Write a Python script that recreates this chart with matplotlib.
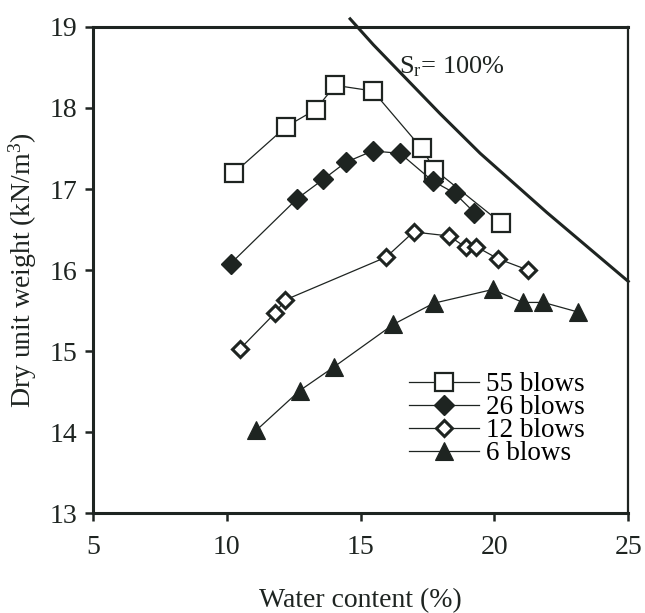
import numpy as np
import matplotlib
matplotlib.use('Agg')
import matplotlib.pyplot as plt

plt.rcParams['font.family'] = ['Liberation Serif', 'DejaVu Serif']
plt.rcParams['mathtext.fontset'] = 'custom'
plt.rcParams['mathtext.rm'] = 'Liberation Serif'
plt.rcParams['mathtext.it'] = 'Liberation Serif:italic'

INK = '#1e2421'

# Compaction curves: water content (%) vs dry unit weight (kN/m3)
w_55 = [10.28, 12.22, 13.32, 14.05, 15.46, 17.29, 17.76, 20.25]
g_55 = [17.20, 17.77, 17.98, 18.28, 18.21, 17.50, 17.24, 16.58]

w_26 = [10.15, 12.63, 13.61, 14.45, 15.45, 16.48, 17.69, 18.51, 19.25]
g_26 = [16.08, 16.88, 17.12, 17.33, 17.47, 17.44, 17.10, 16.95, 16.71]

w_12 = [10.48, 11.81, 12.18, 15.96, 16.98, 18.31, 18.93, 19.31, 20.13, 21.25]
g_12 = [15.02, 15.47, 15.63, 16.16, 16.47, 16.42, 16.28, 16.29, 16.14, 16.00]

w_6 = [11.10, 12.72, 13.99, 16.23, 17.73, 19.94, 21.06, 21.83, 23.14]
g_6 = [14.02, 14.51, 14.80, 15.33, 15.59, 15.76, 15.60, 15.60, 15.48]

# Full saturation (zero air voids) line
w_sat = [14.61, 15.48, 17.97, 19.47, 21.96, 25.0]
g_sat = [19.10, 18.78, 17.93, 17.44, 16.71, 15.86]

fig = plt.figure(figsize=(6.45, 6.13), dpi=100)
ax = fig.add_axes([0.144, 0.163, 0.830, 0.793])

ax.plot(w_55, g_55, '-', color=INK, lw=0.9, marker='s', ms=13,
        mfc='white', mec=INK, mew=1.6, label='55 blows')
ax.plot(w_26, g_26, '-', color=INK, lw=0.9, marker='D', ms=10,
        mfc=INK, mec=INK, mew=1.0, label='26 blows')
ax.plot(w_12, g_12, '-', color=INK, lw=0.9, marker='D', ms=8,
        mfc='white', mec=INK, mew=2.2, label='12 blows')
ax.plot(w_6, g_6, '-', color=INK, lw=0.9, marker='^', ms=13,
        mfc=INK, mec=INK, mew=0.8, label='6 blows')

ax.plot(w_sat, g_sat, '-', color=INK, lw=2.2, clip_on=False,
        solid_joinstyle='round')
ax.text(16.45, 18.43, r'S$_\mathregular{r}$= 100%', fontsize=19,
        color=INK, ha='left', va='baseline')

ax.set_xlim(5, 25)
ax.set_ylim(13, 19)
ax.set_xticks([5, 10, 15, 20, 25])
ax.set_yticks([13, 14, 15, 16, 17, 18, 19])

for side in ['left', 'bottom', 'top']:
    ax.spines[side].set_linewidth(2.2)
ax.spines['right'].set_linewidth(1.6)
for s in ax.spines.values():
    s.set_color(INK)

ax.tick_params(axis='both', direction='out', length=6, width=1.8,
               colors=INK, labelsize=20)
ax.tick_params(axis='x', pad=10)
ax.tick_params(axis='y', pad=5)

ax.set_xlabel('Water content (%)', fontsize=20, color=INK, labelpad=20)
ax.set_ylabel('Dry unit weight (kN/m$^3$)', fontsize=20, color=INK,
              labelpad=8)

ax.legend(loc='upper left', bbox_to_anchor=(0.59, 0.29), frameon=False,
          fontsize=19.5, handlelength=2.6, handletextpad=0.25,
          labelspacing=-0.07, borderpad=0, borderaxespad=0)

fig.savefig('out.png', dpi=100, facecolor='white')
